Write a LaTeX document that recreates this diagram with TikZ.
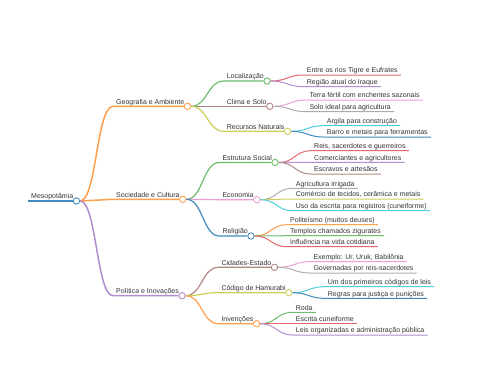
\documentclass[tikz,border=0pt]{standalone}
\usepackage{fontspec}
\setmainfont{Liberation Sans}
\usetikzlibrary{calc}
\definecolor{txt}{HTML}{333333}
\definecolor{mmblue}{HTML}{1F77B4}
\definecolor{mmorange}{HTML}{FF7F0E}
\definecolor{mmgreen}{HTML}{2CA02C}
\definecolor{mmred}{HTML}{D62728}
\definecolor{mmpurple}{HTML}{9467BD}
\definecolor{mmbrown}{HTML}{8C564B}
\definecolor{mmpink}{HTML}{E377C2}
\definecolor{mmgrey}{HTML}{7F7F7F}
\definecolor{mmolive}{HTML}{BCBD22}
\definecolor{mmcyan}{HTML}{17BECF}
\colorlet{cblue}{mmblue!85!white}
\colorlet{corange}{mmorange!75!white}
\colorlet{cgreen}{mmgreen!70!white}
\colorlet{cred}{mmred!70!white}
\colorlet{cpurple}{mmpurple!75!white}
\colorlet{cbrown}{mmbrown!70!white}
\colorlet{cpink}{mmpink!70!white}
\colorlet{cgrey}{mmgrey!65!white}
\colorlet{colive}{mmolive!75!white}
\colorlet{ccyan}{mmcyan!75!white}

\begin{document}
\begin{tikzpicture}[x=1pt,y=-1pt,
    topic/.style={anchor=south west,inner xsep=3pt,inner ysep=0.5pt,text height=5pt,text depth=1.5pt,font=\fontsize{7}{8}\selectfont,text=txt},
    dot/.style={circle,draw=#1,fill=white,line width=0.9pt,minimum size=6.4pt,inner sep=0pt},
    link/.style={to path={let \p1=(\tikztostart),\p2=(\tikztotarget) in .. controls ({(\x1+\x2)/2},\y1) and ({(\x1+\x2)/2},\y2) .. (\tikztotarget)}},
    lvone/.style={line width=2pt},
    lvtwo/.style={line width=1.5pt,link},
    lvthree/.style={line width=1.2pt,link},
    lvfour/.style={line width=1pt,link}
]
\useasboundingbox (0,0) rectangle (480,384);

% root
\node[topic] (meso) at (28,201) {Mesopotâmia};
\node[dot=cblue] (mesoC) at (meso.south east) {};
\draw[cblue,lvone] (meso.south west) -- (mesoC.west);

% first level
\node[topic] (geo) at (113,106.3) {Geografia e Ambiente};
\node[topic] (soc) at (113,199.3) {Sociedade e Cultura};
\node[topic] (pol) at (113,295.7) {Política e Inovações};
\node[dot=corange] (geoC) at (geo.south east) {};
\node[dot=corange] (socC) at (soc.south east) {};
\node[dot=cpurple] (polC) at (pol.south east) {};
\draw[corange,lvtwo] (mesoC.east) to (geo.south west) -- (geoC.west);
\draw[corange,lvtwo] (mesoC.east) to (soc.south west) -- (socC.west);
\draw[cpurple,lvtwo] (mesoC.east) to (pol.south west) -- (polC.west);

% Geografia e Ambiente
\node[topic] (loc) at (223.7,81) {Localização};
\node[topic] (clima) at (223.7,106.3) {Clima e Solo};
\node[topic] (recur) at (223.7,131.3) {Recursos Naturais};
\node[dot=cgreen] (locC) at (loc.south east) {};
\node[dot=cbrown] (climaC) at (clima.south east) {};
\node[dot=colive] (recurC) at (recur.south east) {};
\draw[cgreen,lvthree] (geoC.east) to (loc.south west) -- (locC.west);
\draw[cbrown,lvthree] (geoC.east) to (clima.south west) -- (climaC.west);
\draw[colive,lvthree] (geoC.east) to (recur.south west) -- (recurC.west);

\node[topic] (loca) at (303.7,75) {Entre os rios Tigre e Eufrates};
\node[topic] (locb) at (303.7,86.7) {Região atual do Iraque};
\draw[cred,lvfour] (locC.east) to (loca.south west) -- (loca.south east);
\draw[cpurple,lvfour] (locC.east) to (locb.south west) -- (locb.south east);

\node[topic] (climaa) at (306.3,100) {Terra fértil com enchentes sazonais};
\node[topic] (climab) at (306.3,111.7) {Solo ideal para agricultura};
\draw[cpink,lvfour] (climaC.east) to (climaa.south west) -- (climaa.south east);
\draw[cgrey,lvfour] (climaC.east) to (climab.south west) -- (climab.south east);

\node[topic] (recura) at (323.7,125.7) {Argila para construção};
\node[topic] (recurb) at (323.7,137) {Barro e metais para ferramentas};
\draw[ccyan,lvfour] (recurC.east) to (recura.south west) -- (recura.south east);
\draw[cblue,lvfour] (recurC.east) to (recurb.south west) -- (recurb.south east);

% Sociedade e Cultura
\node[topic] (estr) at (219.3,162.5) {Estrutura Social};
\node[topic] (econ) at (219.3,199.7) {Economia};
\node[topic] (relig) at (219.3,236) {Religião};
\node[dot=cgreen] (estrC) at (estr.south east) {};
\node[dot=cpink] (econC) at (econ.south east) {};
\node[dot=cblue] (religC) at (relig.south east) {};
\draw[cgreen,lvthree] (socC.east) to (estr.south west) -- (estrC.west);
\draw[cpink,lvthree] (socC.east) to (econ.south west) -- (econC.west);
\draw[cblue,lvthree] (socC.east) to (relig.south west) -- (religC.west);

\node[topic] (estra) at (311,150.7) {Reis, sacerdotes e guerreiros};
\node[topic] (estrb) at (311,162.3) {Comerciantes e agricultores};
\node[topic] (estrc) at (311,174) {Escravos e artesãos};
\draw[cred,lvfour] (estrC.east) to (estra.south west) -- (estra.south east);
\draw[cpurple,lvfour] (estrC.east) to (estrb.south west) -- (estrb.south east);
\draw[cbrown,lvfour] (estrC.east) to (estrc.south west) -- (estrc.south east);

\node[topic] (econa) at (292.7,188.3) {Agricultura irrigada};
\node[topic] (econb) at (292.7,199) {Comércio de tecidos, cerâmica e metais};
\node[topic] (econc) at (292.7,210.7) {Uso da escrita para registros (cuneiforme)};
\draw[cgrey,lvfour] (econC.east) to (econa.south west) -- (econa.south east);
\draw[colive,lvfour] (econC.east) to (econb.south west) -- (econb.south east);
\draw[ccyan,lvfour] (econC.east) to (econc.south west) -- (econc.south east);

\node[topic] (religa) at (287,224.7) {Politeísmo (muitos deuses)};
\node[topic] (religb) at (287,235.7) {Templos chamados zigurates};
\node[topic] (religc) at (287,246.7) {Influência na vida cotidiana};
\draw[corange,lvfour] (religC.east) to (religa.south west) -- (religa.south east);
\draw[cgreen,lvfour] (religC.east) to (religb.south west) -- (religb.south east);
\draw[cred,lvfour] (religC.east) to (religc.south west) -- (religc.south east);

% Politica e Inovacoes
\node[topic] (cid) at (218.3,267.3) {Cidades-Estado};
\node[topic] (cod) at (218.3,292.7) {Código de Hamurabi};
\node[topic] (inv) at (218.3,323.7) {Invenções};
\node[dot=cbrown] (cidC) at (cid.south east) {};
\node[dot=colive] (codC) at (cod.south east) {};
\node[dot=corange] (invC) at (inv.south east) {};
\draw[cbrown,lvthree] (polC.east) to (cid.south west) -- (cidC.west);
\draw[colive,lvthree] (polC.east) to (cod.south west) -- (codC.west);
\draw[corange,lvthree] (polC.east) to (inv.south west) -- (invC.west);

\node[topic] (cida) at (310.3,261.7) {Exemplo: Ur, Uruk, Babilônia};
\node[topic] (cidb) at (310.3,273) {Governadas por reis-sacerdotes};
\draw[cpink,lvfour] (cidC.east) to (cida.south west) -- (cida.south east);
\draw[cgrey,lvfour] (cidC.east) to (cidb.south west) -- (cidb.south east);

\node[topic] (coda) at (324.7,286.7) {Um dos primeiros códigos de leis};
\node[topic] (codb) at (324.7,298.3) {Regras para justiça e punições};
\draw[ccyan,lvfour] (codC.east) to (coda.south west) -- (coda.south east);
\draw[cblue,lvfour] (codC.east) to (codb.south west) -- (codb.south east);

\node[topic] (inva) at (292.7,312.3) {Roda};
\node[topic] (invb) at (292.7,323.7) {Escrita cuneiforme};
\node[topic] (invc) at (292.7,335) {Leis organizadas e administração pública};
\draw[cgreen,lvfour] (invC.east) to (inva.south west) -- (inva.south east);
\draw[cred,lvfour] (invC.east) to (invb.south west) -- (invb.south east);
\draw[cpurple,lvfour] (invC.east) to (invc.south west) -- (invc.south east);
\end{tikzpicture}
\end{document}
